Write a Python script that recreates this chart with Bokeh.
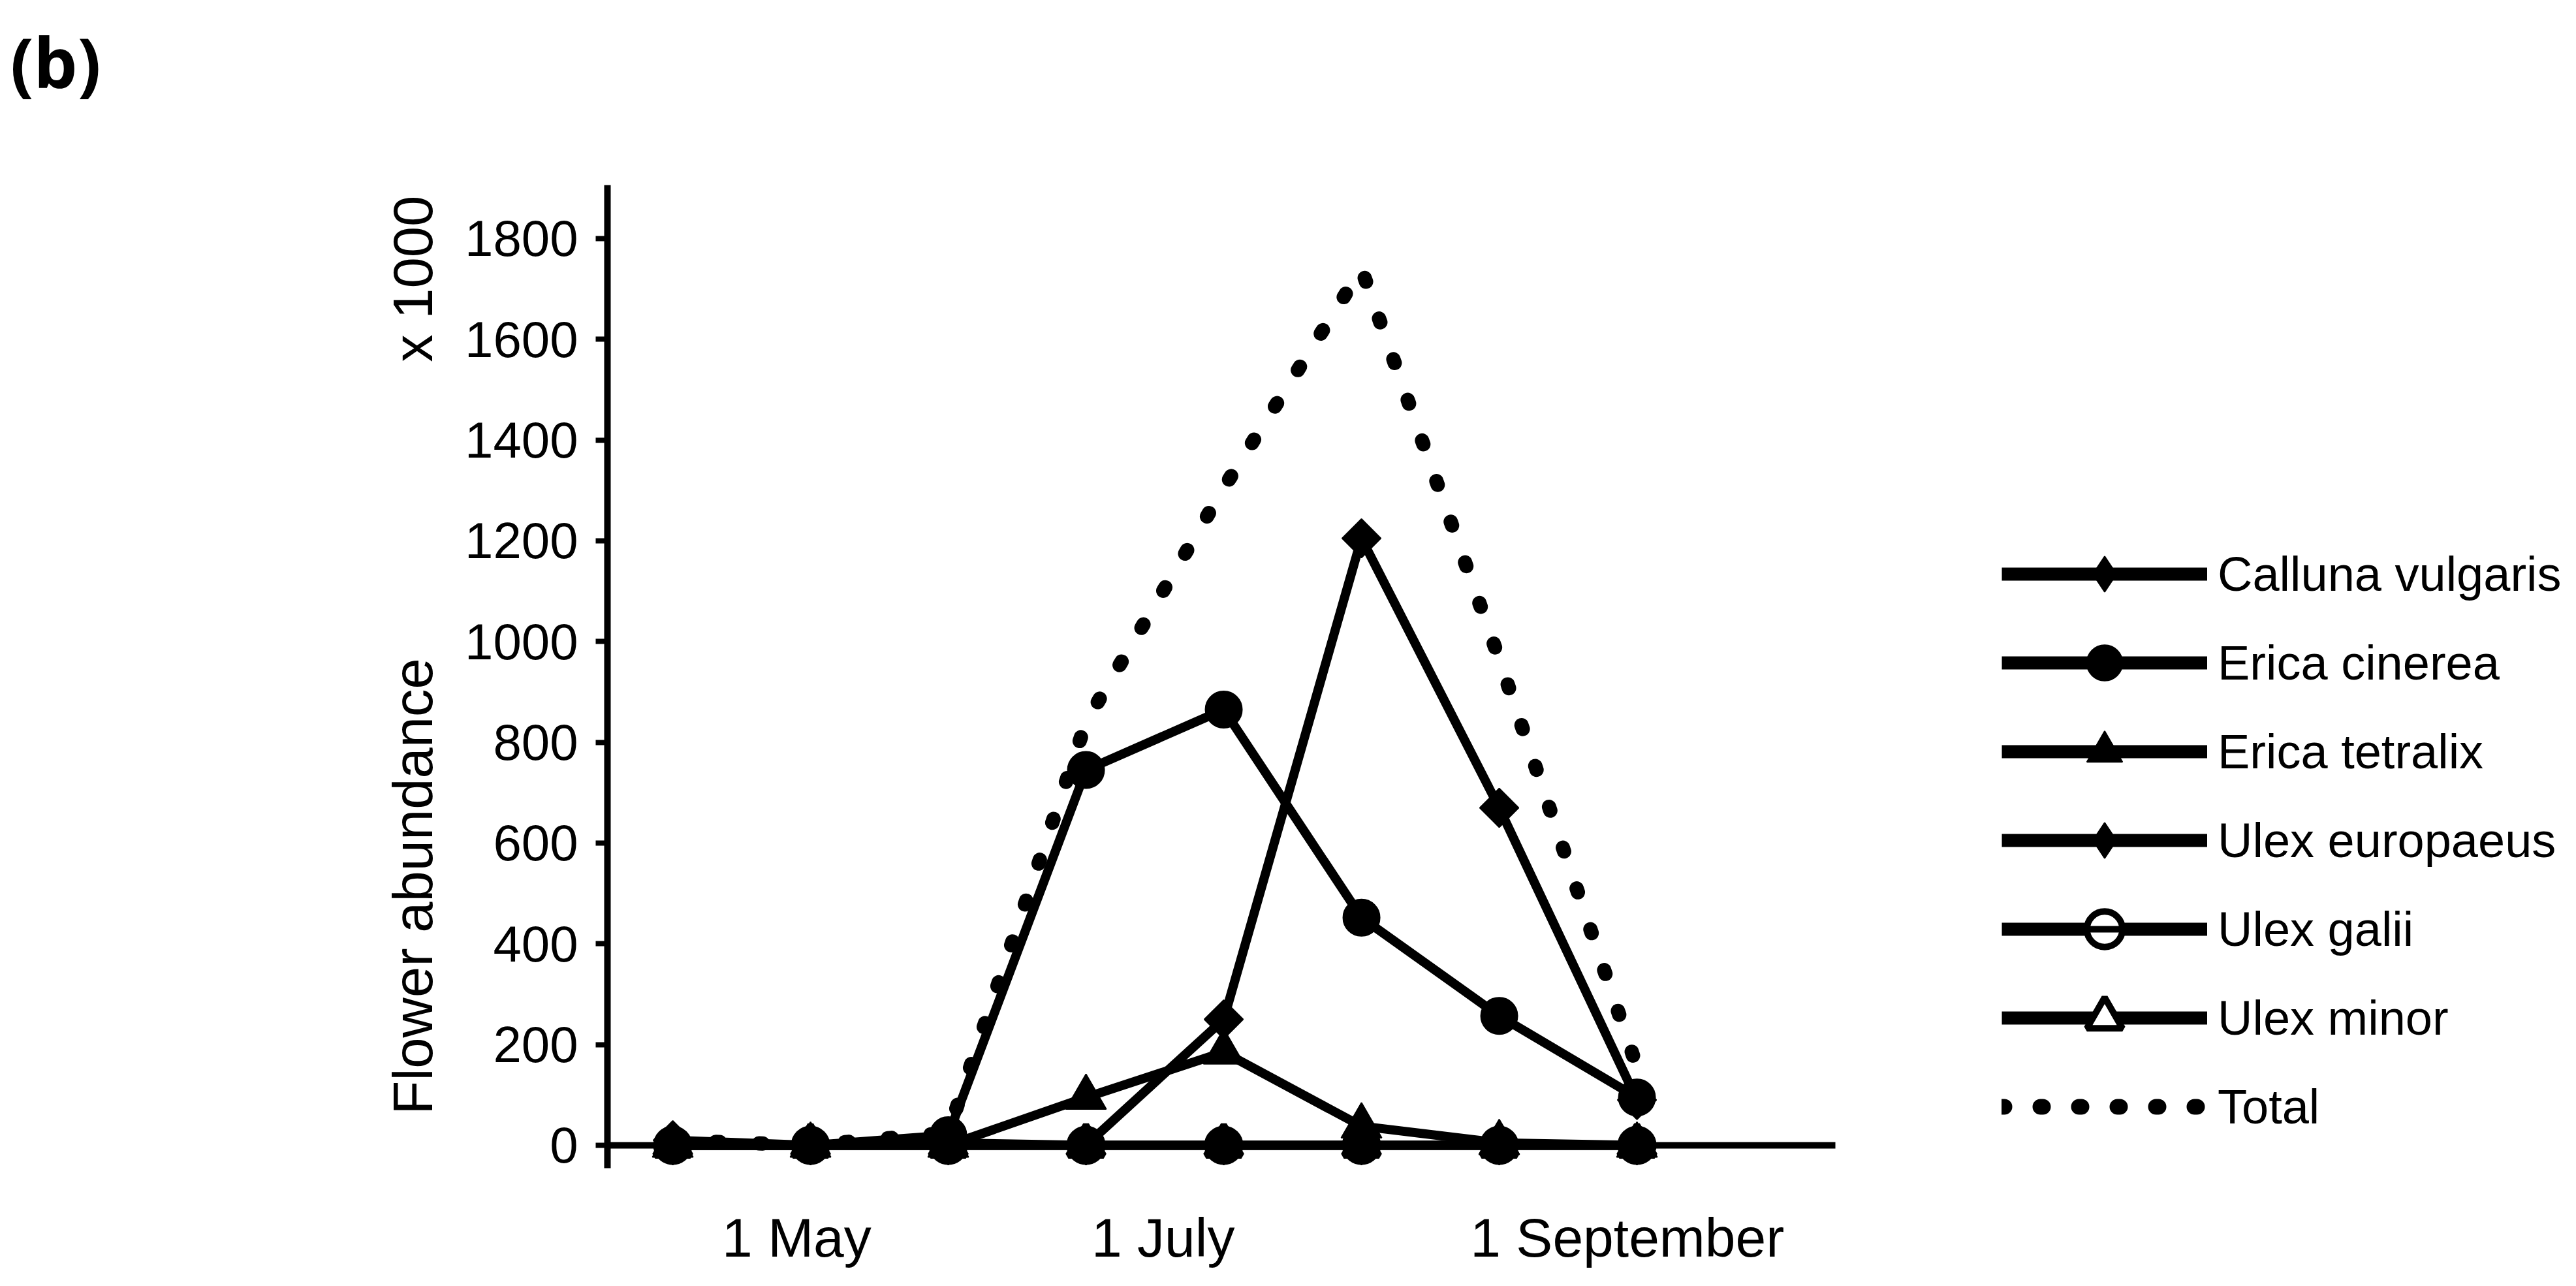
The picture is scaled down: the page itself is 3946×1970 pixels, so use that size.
import math
from bokeh.plotting import figure
from bokeh.models import Range1d, FixedTicker, Label, Legend, LegendItem
from bokeh.embed import file_html
from bokeh.resources import INLINE

# ---- data (sampling occasions, flower abundance x 1000) ----
sample_index = [0, 1, 2, 3, 4, 5, 6, 7]
calluna_vulgaris = [0, 0, 0, 0, 250, 1205, 670, 90]
erica_cinerea = [0, 0, 20, 745, 865, 452, 257, 95]
erica_tetralix = [0, 0, 0, 95, 185, 38, 5, 0]
ulex_europaeus = [10, 0, 5, 0, 0, 0, 0, 0]
ulex_galii = [0, 0, 0, 0, 0, 0, 0, 0]
ulex_minor = [0, 0, 0, 0, 0, 0, 0, 0]
total = [10, 0, 25, 840, 1305, 1740, 965, 155]

x_tick_positions = [0.90, 3.56, 6.93]
x_tick_labels = ["1 May", "1 July", "1 September"]
y_ticks = [0, 200, 400, 600, 800, 1000, 1200, 1400, 1600, 1800]

FONT = "'Liberation Sans', Arial, sans-serif"

# the frame fills the whole figure; axes are pinned with fixed_location
p = figure(width=3930, height=1954, output_backend="svg", toolbar_location=None,
           x_range=Range1d(-4.882, 13.744), y_range=Range1d(-259.2, 2273.0),
           min_border=0)
p.outline_line_color = None
p.grid.visible = False
p.background_fill_color = "white"
p.border_fill_color = "white"

# y axis
ya = p.yaxis[0]
ya.fixed_location = -0.474
ya.bounds = (-45, 1906)
ya.ticker = FixedTicker(ticks=y_ticks)
ya.axis_line_width = 10
ya.axis_line_color = "black"
ya.major_tick_line_width = 8
ya.major_tick_out = 18
ya.major_tick_in = 0
ya.minor_tick_line_color = None
ya.major_label_standoff = 27
ya.major_label_text_font = FONT
ya.major_label_text_font_size = "78px"
ya.major_label_text_color = "black"

# x axis drawn at y = 0
xa = p.xaxis[0]
xa.fixed_location = 0
xa.bounds = (-0.474, 8.441)
xa.ticker = FixedTicker(ticks=x_tick_positions)
xa.major_label_overrides = {t: l for t, l in zip(x_tick_positions, x_tick_labels)}
xa.axis_line_width = 10
xa.axis_line_color = "black"
xa.major_tick_line_color = None
xa.major_tick_out = 0
xa.major_tick_in = 0
xa.minor_tick_line_color = None
xa.major_label_standoff = 95
xa.major_label_text_font = FONT
xa.major_label_text_font_size = "84px"
xa.major_label_text_color = "black"

LW = 14
OFF_X = [-100, -99]      # legend-key renderers live outside the visible range
OFF_Y = [-9000, -9000]

# (name, values, plot marker, plot size, plot angle, legend marker, fill, outline, extra)
series_specs = [
    ("Calluna vulgaris", calluna_vulgaris, "square", 42, math.pi / 4, "diamond", "black", 2, None),
    ("Erica cinerea", erica_cinerea, "circle", 56, 0, "circle", "black", 2, None),
    ("Erica tetralix", erica_tetralix, "triangle", 62, 0, "triangle", "black", 2, None),
    ("Ulex europaeus", ulex_europaeus, "square", 42, math.pi / 4, "diamond", "black", 2, None),
    ("Ulex galii", ulex_galii, "circle", 50, 0, "circle", "white", 10, "dash"),
    ("Ulex minor", ulex_minor, "triangle", 54, 0, "triangle", "white", 10, None),
]

p.line(sample_index, total, line_color="black", line_width=22, line_dash="6 60",
       line_cap="round")

# plot the open-marker (Ulex) series first so the filled markers sit on top
draw_order = [4, 5, 3, 2, 1, 0]
for k in draw_order:
    name, ys, mk, sz, ang, _, fill, mline, extra = series_specs[k]
    p.line(sample_index, ys, line_color="black", line_width=LW)
    p.scatter(sample_index, ys, marker=mk, size=sz, angle=ang, fill_color=fill,
              line_color="black", line_width=mline)
    if extra:
        p.scatter(sample_index, ys, marker=extra, size=sz, line_color="black",
                  line_width=mline)

items = []
for name, ys, mk, sz, ang, lmk, fill, mline, extra in series_specs:
    lr = p.line(OFF_X, OFF_Y, line_color="black", line_width=20)
    sr = p.scatter(OFF_X, OFF_Y, marker=lmk, fill_color=fill, line_color="black",
                   line_width=mline)
    rs = [lr, sr]
    if extra:
        rs.append(p.scatter(OFF_X, OFF_Y, marker=extra, line_color="black",
                            line_width=mline))
    items.append(LegendItem(label=name, renderers=rs))
tl = p.line(OFF_X, OFF_Y, line_color="black", line_width=24, line_dash="4 55",
            line_cap="round")
items.append(LegendItem(label="Total", renderers=[tl]))

legend = Legend(items=items, location=(3066, 191), glyph_width=315, glyph_height=136,
                label_height=136, spacing=0, padding=0, margin=0, label_standoff=16,
                border_line_color=None, background_fill_alpha=0,
                label_text_font=FONT, label_text_font_size="74px",
                label_text_color="black")
p.add_layout(legend)

# axis titles and panel tag
p.add_layout(Label(x=-1.886, y=514, text="Flower abundance", angle=math.pi / 2,
                   text_align="center", text_baseline="middle",
                   text_font=FONT, text_font_size="85px", text_color="black"))
p.add_layout(Label(x=-1.886, y=1720, text="x 1000", angle=math.pi / 2,
                   text_align="center", text_baseline="middle",
                   text_font=FONT, text_font_size="85px", text_color="black"))
p.add_layout(Label(x=-4.81, y=2152, text="(b)", text_align="left",
                   text_baseline="middle", text_font="Open Sans",
                   text_font_style="bold", text_font_size="106px", text_color="black"))

open("out.html", "w").write(file_html(p, INLINE))
